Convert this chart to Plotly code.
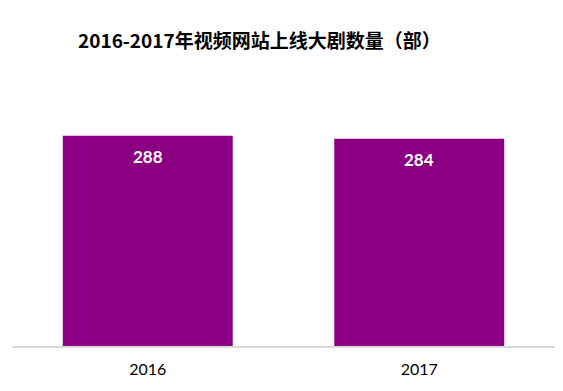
import plotly.graph_objects as go

categories = ["2016", "2017"]
values = [288, 284]
title_text = "2016-2017年视频网站上线大剧数量（部）"

fig = go.Figure()
fig.add_trace(go.Bar(
    x=categories, y=values,
    marker=dict(color="#8B0083", line=dict(width=0)),
    hoverinfo="skip",
))
# category axis: annotation x given as category index
for i, v in enumerate(values):
    fig.add_annotation(x=i, y=v, xref="x", yref="y", text="<b>" + str(v) + "</b>",
                       showarrow=False, yshift=-21, yanchor="middle",
                       font=dict(color="white", size=17, family="Lato, Noto Sans, sans-serif"))

fig.update_layout(
    width=563, height=391,
    margin=dict(l=4, r=16, t=72, b=53),
    paper_bgcolor="white", plot_bgcolor="white",
    bargap=0.374,
    showlegend=False,
    title=dict(text="<b>" + title_text + "</b>", x=70/563, xanchor="left",
               y=1-33/391, yanchor="middle",
               font=dict(size=19, color="black", family="Noto Sans CJK SC, sans-serif")),
    xaxis=dict(type="category", range=[-0.5, 1.5], showline=True, linecolor="#D9D9D9", linewidth=1.5,
               ticks="outside", ticklen=8, tickcolor="rgba(0,0,0,0)",
               tickfont=dict(size=16, color="black", family="Lato, Noto Sans, sans-serif"),
               showgrid=False, zeroline=False),
    yaxis=dict(range=[0, 364.3], visible=False, showgrid=False, zeroline=False),
)
fig.write_html("out.html")
